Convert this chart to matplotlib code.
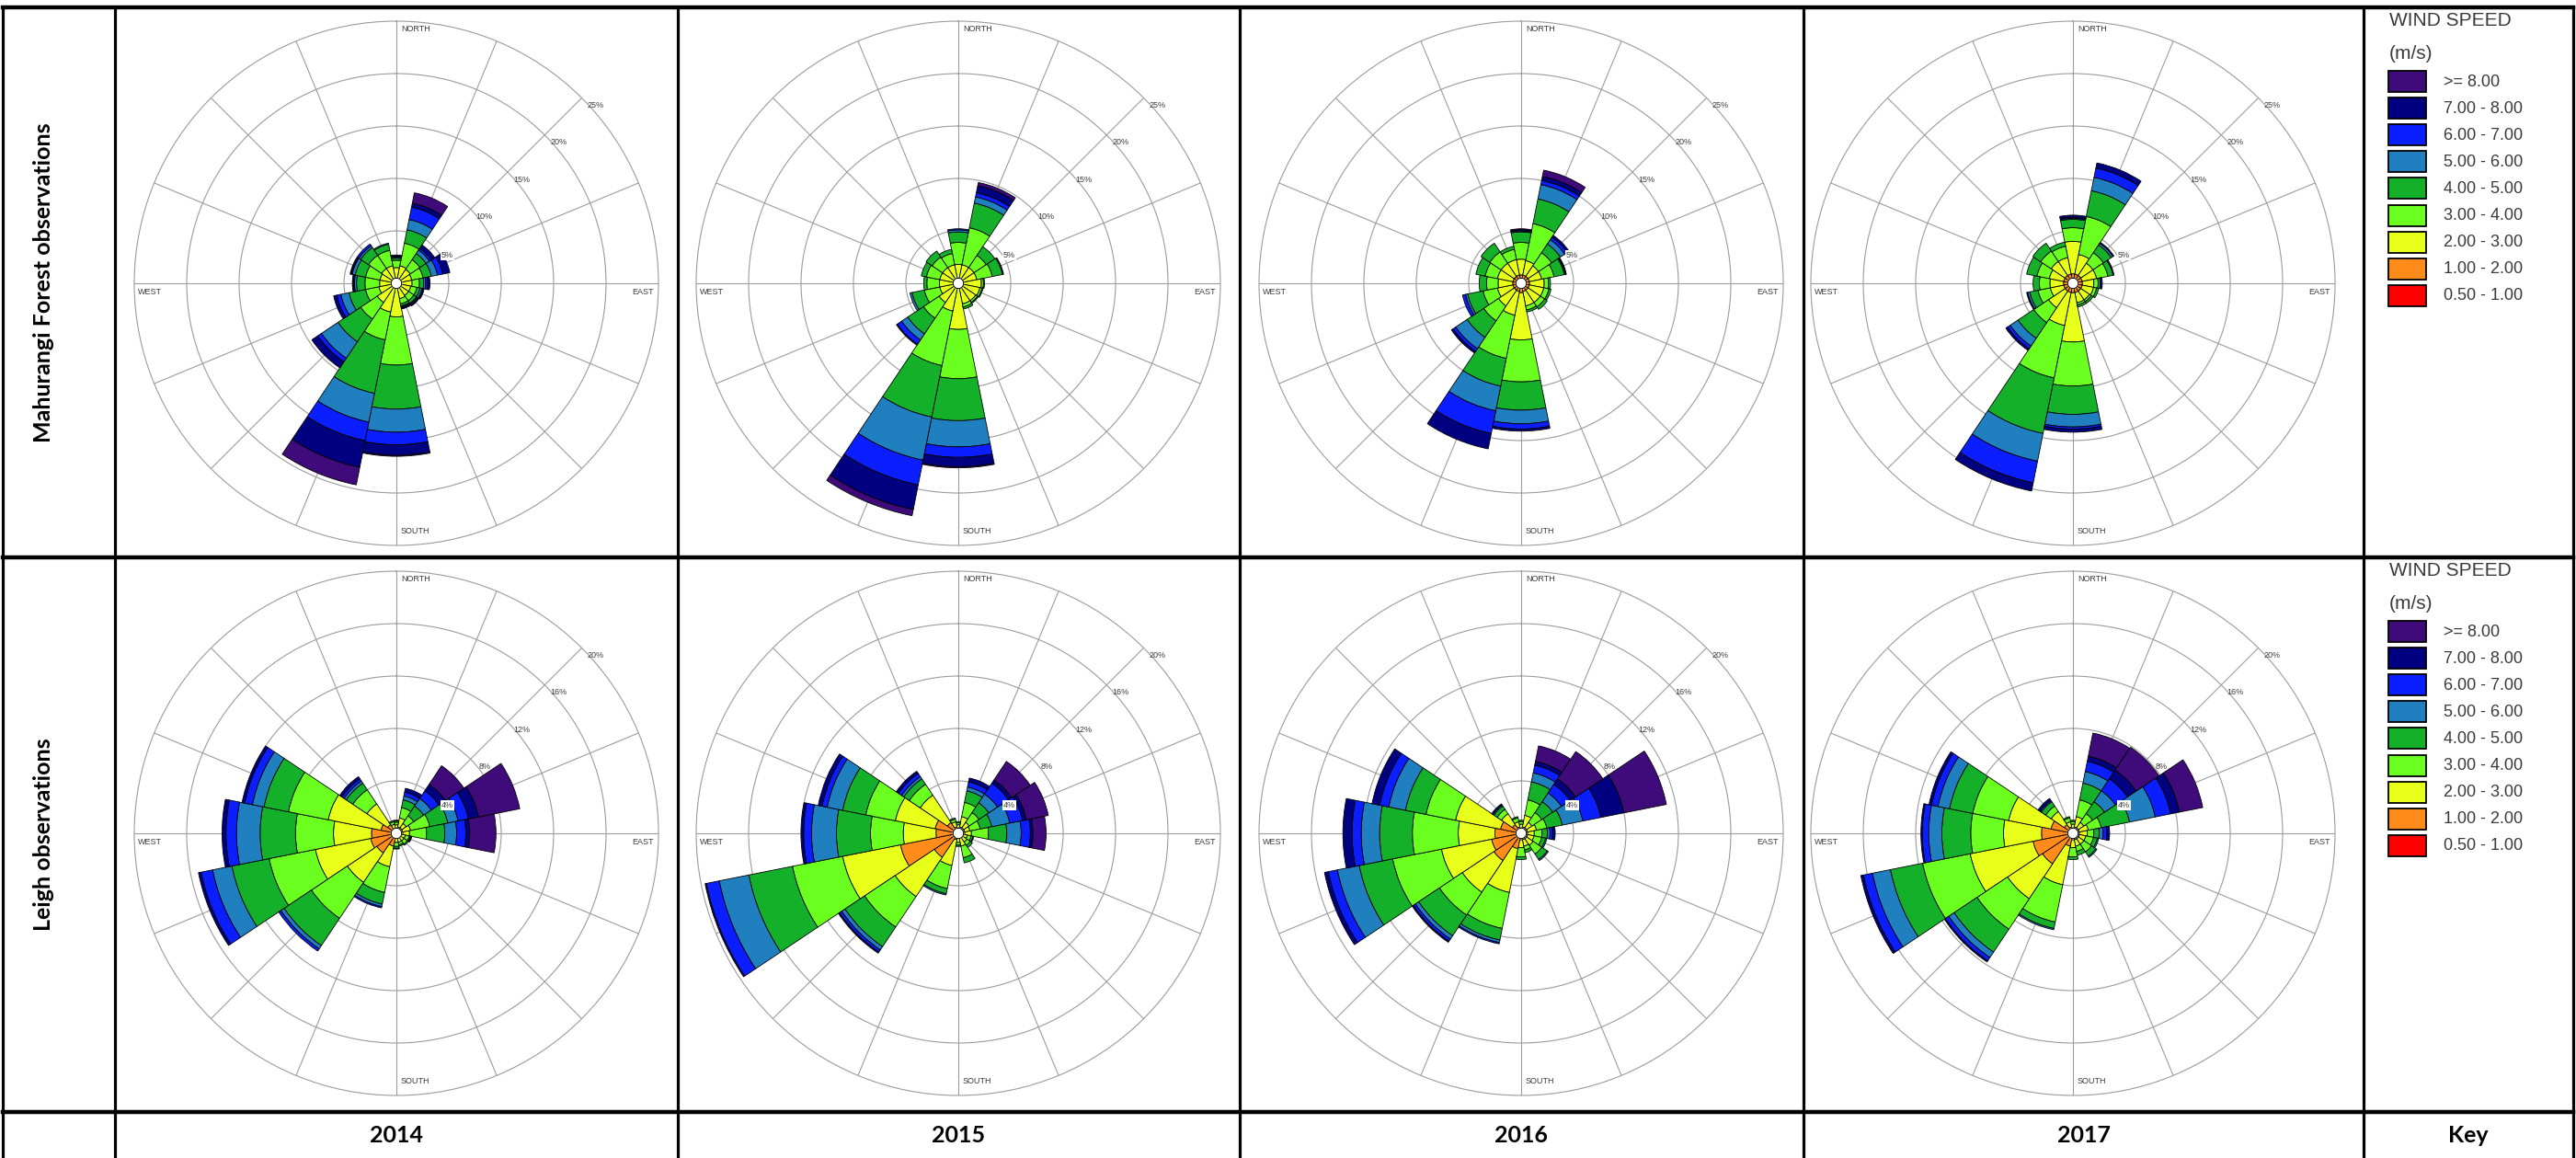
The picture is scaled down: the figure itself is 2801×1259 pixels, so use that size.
import numpy as np
import matplotlib
matplotlib.use('Agg')
import matplotlib.pyplot as plt
from matplotlib.patches import Rectangle
from matplotlib.lines import Line2D

# ---------------- data ----------------
directions = ['N', 'NNE', 'NE', 'ENE', 'E', 'ESE', 'SE', 'SSE',
              'S', 'SSW', 'SW', 'WSW', 'W', 'WNW', 'NW', 'NNW']
speed_bins = ['0.50 - 1.00', '1.00 - 2.00', '2.00 - 3.00', '3.00 - 4.00',
              '4.00 - 5.00', '5.00 - 6.00', '6.00 - 7.00', '7.00 - 8.00', '>= 8.00']
bin_colors = ['#ff0000', '#ff8c1a', '#e8ff1a', '#6aff1e', '#15b02a',
              '#1f7fbf', '#0a1eff', '#000080', '#3f0a7a']
years = ['2014', '2015', '2016', '2017']
stations = ['Mahurangi Forest observations', 'Leigh observations']
ring_labels_mahurangi = [5, 10, 15, 20, 25]
ring_labels_leigh = [4, 8, 12, 16, 20]

# frequency (%) per direction (rows N..NNW) and speed bin (cols 0.5-1 .. >=8)
mahurangi_2014 = [
    [0.05, 0.35, 1.1, 0.7, 0.2, 0.1, 0.1, 0.1, 0.0],
    [0.05, 0.35, 1.3, 2.2, 1.3, 1.0, 1.2, 0.4, 1.0],
    [0.05, 0.35, 1.2, 1.1, 0.7, 0.4, 0.2, 0.4, 0.0],
    [0.05, 0.35, 1.1, 1.1, 0.8, 0.6, 0.5, 0.7, 0.0],
    [0.05, 0.35, 1.1, 0.7, 0.4, 0.2, 0.2, 0.2, 0.0],
    [0.05, 0.35, 1.0, 0.6, 0.3, 0.2, 0.1, 0.1, 0.0],
    [0.05, 0.35, 1.0, 0.6, 0.3, 0.1, 0.1, 0.1, 0.0],
    [0.05, 0.35, 1.1, 0.5, 0.2, 0.1, 0.1, 0.1, 0.0],
    [0.05, 0.35, 2.8, 4.6, 4.2, 2.2, 1.2, 1.0, 0.1],
    [0.05, 0.35, 2.4, 2.7, 5.2, 2.8, 1.8, 2.6, 1.7],
    [0.05, 0.35, 1.8, 1.9, 2.6, 1.9, 0.4, 0.7, 0.0],
    [0.05, 0.35, 1.3, 1.3, 1.6, 0.8, 0.4, 0.3, 0.0],
    [0.05, 0.35, 1.2, 1.4, 0.8, 0.2, 0.1, 0.1, 0.0],
    [0.05, 0.35, 1.2, 1.4, 1.0, 0.3, 0.1, 0.1, 0.0],
    [0.05, 0.35, 1.3, 1.5, 0.9, 0.2, 0.2, 0.0, 0.0],
    [0.05, 0.35, 1.3, 1.5, 0.6, 0.1, 0.0, 0.0, 0.0],
]
mahurangi_2015 = [
    [0.05, 0.4, 1.35, 2.1, 1.0, 0.2, 0.1, 0.0, 0.0],
    [0.05, 0.4, 1.35, 3.6, 2.4, 0.6, 0.4, 0.7, 0.3],
    [0.05, 0.4, 1.35, 1.4, 1.0, 0.0, 0.0, 0.0, 0.0],
    [0.05, 0.4, 1.35, 1.5, 1.0, 0.0, 0.0, 0.1, 0.0],
    [0.05, 0.4, 1.75, 0.2, 0.1, 0.0, 0.0, 0.0, 0.0],
    [0.05, 0.4, 1.65, 0.2, 0.1, 0.0, 0.0, 0.0, 0.0],
    [0.05, 0.4, 1.55, 0.2, 0.1, 0.0, 0.0, 0.0, 0.0],
    [0.05, 0.4, 1.55, 0.3, 0.2, 0.0, 0.0, 0.0, 0.0],
    [0.05, 0.4, 3.95, 4.7, 4.0, 2.5, 1.0, 0.9, 0.1],
    [0.05, 0.4, 2.25, 5.3, 5.0, 4.2, 2.4, 2.4, 0.6],
    [0.05, 0.4, 1.75, 1.8, 1.8, 0.7, 0.5, 0.1, 0.0],
    [0.05, 0.4, 1.35, 1.5, 1.2, 0.2, 0.0, 0.0, 0.0],
    [0.05, 0.4, 1.35, 1.2, 0.3, 0.0, 0.0, 0.0, 0.0],
    [0.05, 0.4, 1.35, 1.3, 0.5, 0.0, 0.0, 0.0, 0.0],
    [0.05, 0.4, 1.35, 1.2, 0.7, 0.0, 0.0, 0.0, 0.0],
    [0.05, 0.4, 1.35, 1.1, 0.4, 0.0, 0.0, 0.0, 0.0],
]
mahurangi_2016 = [
    [0.05, 0.75, 1.5, 1.6, 1.0, 0.1, 0.1, 0.1, 0.0],
    [0.05, 0.75, 1.4, 3.6, 2.4, 1.4, 0.4, 0.4, 0.6],
    [0.05, 0.75, 1.2, 1.5, 1.0, 0.5, 0.3, 0.2, 0.0],
    [0.05, 0.75, 1.2, 1.2, 1.0, 0.1, 0.05, 0.05, 0.0],
    [0.05, 0.75, 1.4, 0.4, 0.2, 0.0, 0.0, 0.0, 0.0],
    [0.05, 0.75, 1.4, 0.5, 0.2, 0.0, 0.0, 0.0, 0.0],
    [0.05, 0.75, 1.4, 0.5, 0.3, 0.0, 0.0, 0.0, 0.0],
    [0.05, 0.75, 1.4, 0.4, 0.2, 0.0, 0.0, 0.0, 0.0],
    [0.05, 0.85, 4.5, 4.0, 2.7, 1.3, 0.5, 0.2, 0.0],
    [0.05, 0.75, 2.3, 4.2, 2.7, 2.4, 2.2, 1.5, 0.0],
    [0.05, 0.75, 1.8, 1.7, 1.9, 1.3, 0.3, 0.2, 0.0],
    [0.05, 0.75, 1.5, 1.4, 1.5, 0.2, 0.3, 0.0, 0.0],
    [0.05, 0.75, 1.4, 1.1, 0.7, 0.0, 0.0, 0.0, 0.0],
    [0.05, 0.75, 1.5, 1.2, 0.9, 0.0, 0.0, 0.0, 0.0],
    [0.05, 0.75, 1.5, 1.3, 1.0, 0.0, 0.0, 0.0, 0.0],
    [0.05, 0.75, 1.5, 1.0, 0.3, 0.0, 0.0, 0.0, 0.0],
]
mahurangi_2017 = [
    [0.05, 0.85, 3.1, 1.3, 0.8, 0.1, 0.1, 0.2, 0.0],
    [0.05, 0.85, 1.9, 3.7, 2.5, 1.3, 0.9, 0.5, 0.0],
    [0.05, 0.85, 1.4, 1.2, 0.9, 0.2, 0.0, 0.1, 0.0],
    [0.05, 0.85, 1.4, 1.1, 0.5, 0.0, 0.0, 0.1, 0.0],
    [0.05, 0.85, 1.1, 0.4, 0.2, 0.0, 0.0, 0.2, 0.0],
    [0.05, 0.85, 1.1, 0.3, 0.2, 0.0, 0.0, 0.0, 0.0],
    [0.05, 0.85, 1.0, 0.2, 0.2, 0.0, 0.0, 0.0, 0.0],
    [0.05, 0.85, 1.0, 0.2, 0.2, 0.0, 0.0, 0.0, 0.0],
    [0.05, 0.85, 4.7, 4.2, 2.7, 1.2, 0.2, 0.3, 0.0],
    [0.05, 0.85, 3.2, 5.1, 5.4, 2.7, 2.1, 0.8, 0.0],
    [0.05, 0.85, 1.9, 1.7, 1.8, 0.9, 0.3, 0.2, 0.0],
    [0.05, 0.85, 1.3, 1.2, 0.8, 0.2, 0.0, 0.1, 0.0],
    [0.05, 0.85, 1.3, 1.0, 0.6, 0.0, 0.0, 0.0, 0.0],
    [0.05, 0.85, 1.4, 1.2, 1.0, 0.0, 0.0, 0.0, 0.0],
    [0.05, 0.85, 1.6, 1.2, 0.9, 0.0, 0.0, 0.0, 0.0],
    [0.05, 0.85, 1.6, 1.1, 0.4, 0.0, 0.0, 0.0, 0.0],
]
leigh_2014 = [
    [0.05, 0.3, 0.3, 0.2, 0.1, 0.05, 0.0, 0.0, 0.0],
    [0.05, 0.45, 0.7, 0.8, 0.6, 0.3, 0.3, 0.3, 0.0],
    [0.05, 0.45, 0.4, 0.7, 0.9, 0.7, 0.7, 0.6, 1.7],
    [0.05, 0.45, 0.6, 1.5, 1.4, 0.8, 0.8, 0.8, 3.2],
    [0.05, 0.45, 0.5, 1.3, 1.4, 0.9, 0.7, 0.3, 2.0],
    [0.05, 0.35, 0.3, 0.3, 0.1, 0.05, 0.05, 0.0, 0.0],
    [0.05, 0.35, 0.3, 0.3, 0.1, 0.0, 0.0, 0.0, 0.0],
    [0.05, 0.35, 0.3, 0.2, 0.1, 0.0, 0.0, 0.0, 0.0],
    [0.05, 0.35, 0.3, 0.3, 0.15, 0.05, 0.0, 0.0, 0.0],
    [0.05, 0.95, 1.6, 2.0, 0.9, 0.2, 0.1, 0.0, 0.0],
    [0.05, 1.75, 2.7, 3.3, 2.5, 0.3, 0.2, 0.0, 0.0],
    [0.05, 1.95, 4.3, 3.6, 2.9, 1.5, 0.9, 0.2, 0.0],
    [0.05, 1.85, 2.9, 2.9, 2.7, 1.8, 0.8, 0.3, 0.0],
    [0.05, 1.15, 4.1, 3.1, 1.9, 0.9, 0.6, 0.2, 0.0],
    [0.05, 0.75, 1.9, 1.3, 0.6, 0.2, 0.2, 0.2, 0.0],
    [0.05, 0.35, 0.3, 0.2, 0.1, 0.0, 0.0, 0.0, 0.0],
]
leigh_2015 = [
    [0.05, 0.3, 0.3, 0.15, 0.1, 0.0, 0.0, 0.0, 0.0],
    [0.05, 0.45, 0.8, 1.1, 0.9, 0.3, 0.4, 0.3, 0.0],
    [0.05, 0.45, 0.5, 0.9, 0.9, 0.8, 1.0, 0.3, 1.7],
    [0.05, 0.45, 0.4, 0.8, 0.9, 1.4, 1.0, 0.3, 1.7],
    [0.05, 0.45, 0.5, 1.3, 1.4, 1.1, 0.7, 0.2, 1.0],
    [0.05, 0.35, 0.3, 0.3, 0.15, 0.05, 0.0, 0.0, 0.0],
    [0.05, 0.35, 0.4, 0.3, 0.2, 0.0, 0.0, 0.0, 0.0],
    [0.05, 0.35, 0.6, 0.9, 0.4, 0.0, 0.0, 0.0, 0.0],
    [0.05, 0.35, 0.3, 0.2, 0.1, 0.0, 0.0, 0.0, 0.0],
    [0.05, 0.45, 2.0, 1.8, 0.4, 0.1, 0.0, 0.0, 0.0],
    [0.05, 2.15, 3.6, 2.8, 1.8, 0.3, 0.2, 0.1, 0.0],
    [0.05, 4.45, 4.5, 3.9, 3.4, 2.3, 1.0, 0.1, 0.0],
    [0.05, 1.65, 2.5, 2.5, 2.6, 1.9, 0.6, 0.2, 0.0],
    [0.05, 1.75, 3.1, 2.3, 1.8, 1.2, 0.4, 0.3, 0.0],
    [0.05, 0.95, 2.5, 1.0, 0.5, 0.2, 0.3, 0.2, 0.0],
    [0.05, 0.45, 0.4, 0.2, 0.1, 0.0, 0.0, 0.0, 0.0],
]
leigh_2016 = [
    [0.05, 0.35, 0.3, 0.2, 0.1, 0.0, 0.0, 0.0, 0.0],
    [0.05, 0.45, 0.9, 1.2, 1.4, 0.7, 0.6, 0.3, 1.2],
    [0.05, 0.45, 0.5, 0.9, 1.0, 0.8, 0.8, 0.5, 2.5],
    [0.05, 0.45, 0.7, 0.8, 1.2, 1.6, 1.4, 1.8, 3.3],
    [0.05, 0.45, 0.5, 0.6, 0.4, 0.2, 0.2, 0.2, 0.0],
    [0.05, 0.45, 0.5, 0.6, 0.3, 0.1, 0.0, 0.0, 0.0],
    [0.05, 0.45, 0.6, 0.8, 0.5, 0.1, 0.0, 0.0, 0.0],
    [0.05, 0.45, 0.5, 0.3, 0.2, 0.0, 0.0, 0.0, 0.0],
    [0.05, 0.45, 0.6, 0.7, 0.2, 0.0, 0.0, 0.0, 0.0],
    [0.05, 1.15, 3.4, 2.8, 0.9, 0.2, 0.1, 0.0, 0.0],
    [0.05, 2.45, 2.9, 2.1, 1.9, 0.3, 0.2, 0.1, 0.0],
    [0.05, 2.25, 3.9, 3.8, 2.6, 1.7, 0.7, 0.3, 0.0],
    [0.05, 1.95, 2.8, 3.5, 2.5, 1.4, 0.7, 0.7, 0.0],
    [0.05, 1.55, 3.5, 2.3, 1.6, 1.3, 0.7, 0.6, 0.0],
    [0.05, 0.75, 1.0, 0.4, 0.3, 0.1, 0.0, 0.1, 0.0],
    [0.05, 0.45, 0.4, 0.3, 0.1, 0.0, 0.0, 0.0, 0.0],
]
leigh_2017 = [
    [0.05, 0.35, 0.3, 0.2, 0.1, 0.0, 0.0, 0.0, 0.0],
    [0.05, 0.45, 0.8, 1.3, 1.3, 0.9, 0.8, 0.4, 1.8],
    [0.05, 0.45, 0.5, 0.8, 1.1, 1.0, 1.1, 0.8, 2.1],
    [0.05, 0.45, 0.7, 1.0, 2.2, 2.0, 1.2, 0.7, 1.8],
    [0.05, 0.45, 0.6, 0.5, 0.4, 0.3, 0.3, 0.2, 0.0],
    [0.05, 0.45, 0.5, 0.6, 0.3, 0.1, 0.0, 0.0, 0.0],
    [0.05, 0.45, 0.5, 0.7, 0.4, 0.1, 0.0, 0.0, 0.0],
    [0.05, 0.45, 0.5, 0.4, 0.3, 0.0, 0.0, 0.0, 0.0],
    [0.05, 0.45, 0.6, 0.7, 0.2, 0.0, 0.0, 0.0, 0.0],
    [0.05, 0.95, 3.0, 2.9, 0.5, 0.1, 0.0, 0.0, 0.0],
    [0.05, 2.75, 3.2, 2.8, 2.1, 0.5, 0.3, 0.1, 0.0],
    [0.05, 3.05, 4.9, 3.7, 2.5, 1.4, 0.7, 0.2, 0.0],
    [0.05, 2.35, 2.9, 2.5, 2.2, 1.0, 0.5, 0.1, 0.0],
    [0.05, 1.65, 3.3, 2.8, 1.8, 0.9, 0.5, 0.2, 0.0],
    [0.05, 0.75, 1.2, 0.5, 0.4, 0.1, 0.0, 0.2, 0.0],
    [0.05, 0.45, 0.4, 0.3, 0.1, 0.0, 0.0, 0.0, 0.0],
]

station_roses = [
    [mahurangi_2014, mahurangi_2015, mahurangi_2016, mahurangi_2017],
    [leigh_2014, leigh_2015, leigh_2016, leigh_2017],
]
station_rings = [ring_labels_mahurangi, ring_labels_leigh]

# ---------------- layout (pixels) ----------------
W, H, DPI = 2801, 1259, 100
col_x = [3, 125, 737, 1348, 1961, 2570, 2798]
row_y = [8, 606, 1209]
rose_cx = [431, 1042, 1654, 2254]
rose_cy = [308, 906]
R = 285
GRID = '#9c9c9c'
TXT = '#3a3a3a'
TABLE_FONT = ['Lato', 'DejaVu Sans']
PLOT_FONT = ['Liberation Sans', 'DejaVu Sans']


def fx(x):
    return x / W


def fy(y):
    return 1 - y / H


fig = plt.figure(figsize=(W / DPI, H / DPI), dpi=DPI)
fig.patch.set_facecolor('white')

theta = np.deg2rad(np.arange(len(directions)) * 22.5)
width = np.deg2rad(22.5)

for i, roses in enumerate(station_roses):
    rings = station_rings[i]
    rmax = rings[-1]
    for j, data in enumerate(roses):
        cx, cy = rose_cx[j], rose_cy[i]
        ax = fig.add_axes([fx(cx - R), fy(cy + R), 2 * R / W, 2 * R / H],
                          projection='polar')
        ax.set_theta_zero_location('N')
        ax.set_theta_direction(-1)
        ax.set_ylim(0, rmax)
        ax.set_xticks(theta)
        ax.set_xticklabels([])
        ax.set_yticks(rings[:-1])
        ax.set_yticklabels([])
        ax.tick_params(length=0)
        ax.grid(True, color=GRID, lw=0.8)
        ax.set_axisbelow(True)
        ax.spines['polar'].set_color(GRID)
        ax.spines['polar'].set_linewidth(0.8)

        vals = np.array(data)
        bottom = np.zeros(len(directions))
        for k in range(len(speed_bins)):
            h = vals[:, k]
            m = h > 0
            ax.bar(theta[m], h[m], width=width, bottom=bottom[m],
                   color=bin_colors[k], edgecolor='black', linewidth=0.6,
                   zorder=3)
            bottom = bottom + h

        # calm circle
        tt = np.linspace(0, 2 * np.pi, 80)
        hole = rmax * 0.02
        ax.fill(tt, np.full_like(tt, hole), color='white', zorder=4)
        ax.plot(tt, np.full_like(tt, hole), color='black', lw=0.7, zorder=5)

        # compass labels
        fs = 6.5
        ax.text(0.5 + 5 / (2 * R), 0.5 + 277 / (2 * R), 'NORTH', transform=ax.transAxes,
                ha='left', va='center', fontsize=fs, color=TXT, family=PLOT_FONT)
        ax.text(0.5 + 5 / (2 * R), 0.5 - 270 / (2 * R), 'SOUTH', transform=ax.transAxes,
                ha='left', va='center', fontsize=fs, color=TXT, family=PLOT_FONT)
        ax.text(0.5 - 281 / (2 * R), 0.5 - 9 / (2 * R), 'WEST', transform=ax.transAxes,
                ha='left', va='center', fontsize=fs, color=TXT, family=PLOT_FONT)
        ax.text(0.5 + 280 / (2 * R), 0.5 - 9 / (2 * R), 'EAST', transform=ax.transAxes,
                ha='right', va='center', fontsize=fs, color=TXT, family=PLOT_FONT)

        # ring percentage labels
        for n, rv in enumerate(rings):
            rpx = rv / rmax * R
            ang = 45 + np.degrees(16 / rpx)
            rl = rv + 6 / R * rmax
            kw = {}
            if n == 0:
                kw['bbox'] = dict(facecolor='white', edgecolor='none', pad=0.6)
            ax.text(np.deg2rad(ang), rl, f'{rv}%', ha='center', va='center',
                    fontsize=fs, color=TXT, family=PLOT_FONT, zorder=6, **kw)

# ---------------- key (legend) ----------------
for i in range(2):
    dy = 598 * i
    fig.text(fx(2598), fy(23 + dy), 'WIND SPEED', ha='left', va='center',
             fontsize=15, color=TXT, family=PLOT_FONT)
    fig.text(fx(2598), fy(58 + dy), '(m/s)', ha='left', va='center',
             fontsize=15, color=TXT, family=PLOT_FONT)
    for n, k in enumerate(range(len(speed_bins) - 1, -1, -1)):
        top = 77 + dy + n * 29.1
        fig.add_artist(Rectangle((fx(2597), fy(top + 23)), 41 / W, 23 / H,
                                 transform=fig.transFigure, facecolor=bin_colors[k],
                                 edgecolor='black', linewidth=1.3))
        fig.text(fx(2657), fy(top + 12), speed_bins[k], ha='left', va='center',
                 fontsize=13, color=TXT, family=PLOT_FONT)

# ---------------- table text ----------------
fig.text(fx(48), fy((row_y[0] + row_y[1]) / 2), stations[0], rotation=90,
         ha='center', va='center', fontsize=18, fontweight='bold', family=TABLE_FONT)
fig.text(fx(48), fy((row_y[1] + row_y[2]) / 2), stations[1], rotation=90,
         ha='center', va='center', fontsize=18, fontweight='bold', family=TABLE_FONT)
for j, yr in enumerate(years):
    fig.text(fx((col_x[j + 1] + col_x[j + 2]) / 2), fy(1234), yr, ha='center',
             va='center', fontsize=18, fontweight='bold', family=TABLE_FONT)
fig.text(fx((col_x[5] + col_x[6]) / 2), fy(1234), 'Key', ha='center', va='center',
         fontsize=18, fontweight='bold', family=TABLE_FONT)

# ---------------- table lines ----------------
for x in col_x:
    fig.add_artist(Line2D([fx(x), fx(x)], [fy(row_y[0]), fy(H)], transform=fig.transFigure,
                          color='black', lw=2.3, zorder=10))
for y in row_y:
    fig.add_artist(Line2D([fx(col_x[0]), fx(col_x[-1])], [fy(y), fy(y)],
                          transform=fig.transFigure, color='black', lw=3.2, zorder=10))

fig.savefig('out.png', dpi=DPI, facecolor='white')
